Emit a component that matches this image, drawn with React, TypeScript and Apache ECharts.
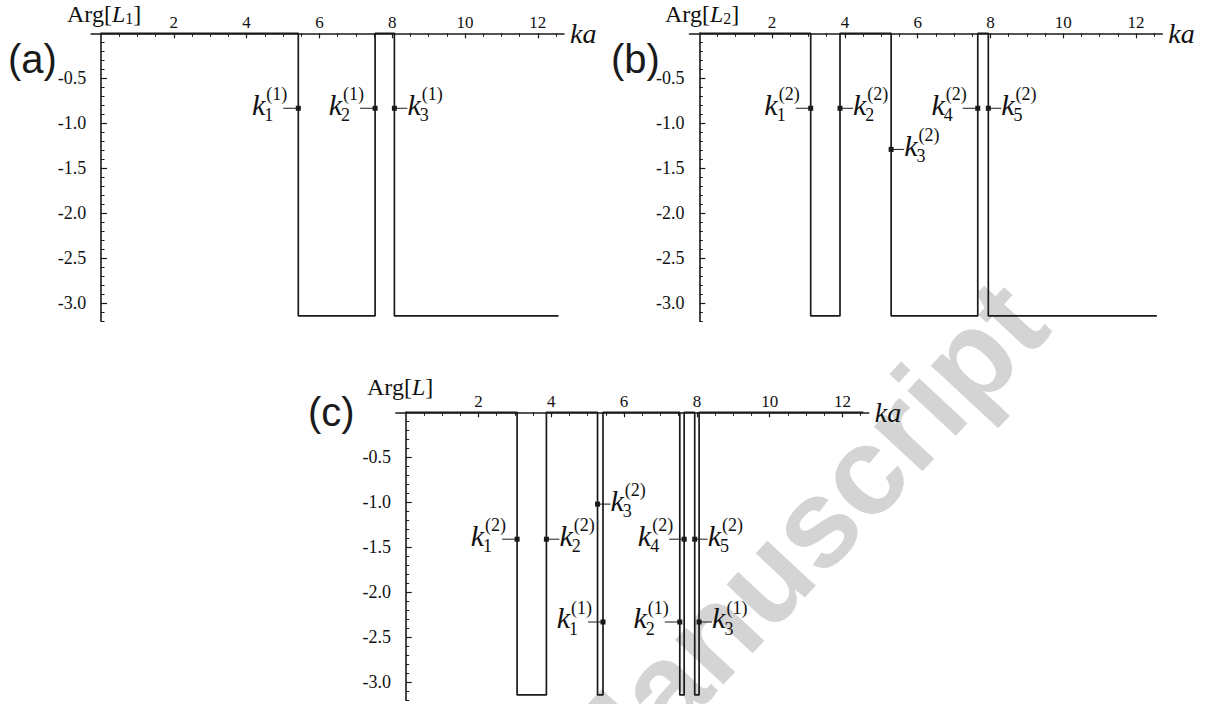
import React, { useEffect, useRef } from "react";
import * as echarts from "echarts";

// ---- data ----
const xMajorTicks = [2, 4, 6, 8, 10, 12];
const xMinorTicks = [0.5, 1, 1.5, 2.5, 3, 3.5, 4.5, 5, 5.5, 6.5, 7, 7.5, 8.5, 9, 9.5, 10.5, 11, 11.5, 12.5];
const yMajorTicks = [-0.5, -1.0, -1.5, -2.0, -2.5, -3.0];
const yMinorTicks = [
  -0.1, -0.2, -0.3, -0.4, -0.6, -0.7, -0.8, -0.9, -1.1, -1.2, -1.3, -1.4, -1.6, -1.7, -1.8, -1.9,
  -2.1, -2.2, -2.3, -2.4, -2.6, -2.7, -2.8, -2.9, -3.1, -3.2,
];

const KA_START = 0;
const KA_END = 12.57; // 4π
const ARG_HIGH = 0;
const ARG_LOW = -3.14; // -π

// ka values where Arg jumps between 0 and -π
const jumpsL1 = [5.42, 7.53, 8.06];
const jumpsL2 = [3.06, 3.865, 5.27, 7.65, 7.94];
const jumpsL = [3.06, 3.865, 5.27, 5.42, 7.53, 7.65, 7.94, 8.06];

// annotation: [ka, arg position of marker, subscript, superscript, side (0 left / 1 right)]
const labelsL1 = [
  [5.42, -0.833, 1, 1, 0],
  [7.53, -0.833, 2, 1, 0],
  [8.06, -0.833, 3, 1, 1],
];
const labelsL2 = [
  [3.06, -0.833, 1, 2, 0],
  [3.865, -0.833, 2, 2, 1],
  [5.27, -1.29, 3, 2, 1],
  [7.65, -0.833, 4, 2, 0],
  [7.94, -0.833, 5, 2, 1],
];
const labelsL = [
  [3.06, -1.41, 1, 2, 0],
  [3.865, -1.41, 2, 2, 1],
  [5.27, -1.02, 3, 2, 1],
  [7.65, -1.41, 4, 2, 0],
  [7.94, -1.41, 5, 2, 1],
  [5.42, -2.33, 1, 1, 0],
  [7.53, -2.33, 2, 1, 0],
  [8.06, -2.33, 3, 1, 1],
];

// ---- layout ----
const X_MIN = -0.27;
const X_MAX = 12.72;
const Y_MIN = -3.2;
const Y_MAX = 0;
const GRID_W = 472.8;
const GRID_H = 288;
const grids = [
  { left: 91.2, top: 33.3 },
  { left: 689.5, top: 33.3 },
  { left: 395.9, top: 412.3 },
];

const INK = "#1a1a1a";
const SERIF = "Liberation Serif";
const SANS = "Liberation Sans";

function stepPoints(jumps: number[]): number[][] {
  const pts: number[][] = [[KA_START, ARG_HIGH]];
  let level = ARG_HIGH;
  for (const t of jumps) {
    pts.push([t, level]);
    level = level === ARG_HIGH ? ARG_LOW : ARG_HIGH;
    pts.push([t, level]);
  }
  pts.push([KA_END, level]);
  return pts;
}

function renderLabel(params: any, api: any) {
  const x = api.value(0);
  const y = api.value(1);
  const sub = api.value(2);
  const sup = api.value(3);
  const side = api.value(4);
  const p = api.coord([x, y]);
  const mx = p[0];
  const my = p[1];
  const kw = 13.3;
  let kx: number, kAlign: string, sx: number, l1: number, l2: number;
  if (side === 0) {
    kx = mx - 33;
    kAlign = "right";
    sx = mx - 33;
    l1 = mx - 15;
    l2 = mx;
  } else {
    kx = mx + 13;
    kAlign = "left";
    sx = mx + 13 + kw;
    l1 = mx;
    l2 = mx + 13;
  }
  return {
    type: "group",
    children: [
      {
        type: "line",
        shape: { x1: l1, y1: my, x2: l2, y2: my },
        style: { stroke: INK, lineWidth: 1 },
      },
      {
        type: "rect",
        shape: { x: mx - 2.5, y: my - 2.5, width: 5, height: 5 },
        style: { fill: INK },
      },
      {
        type: "text",
        x: kx,
        y: my - 4.1,
        style: {
          text: "k",
          fontFamily: SERIF,
          fontStyle: "italic",
          fontSize: 30,
          fill: "#111",
          textAlign: kAlign,
          textVerticalAlign: "middle",
        },
      },
      {
        type: "text",
        x: sx + 1,
        y: my - 14,
        style: {
          text: "(" + sup + ")",
          fontFamily: SERIF,
          fontSize: 18,
          fill: "#111",
          textAlign: "left",
          textVerticalAlign: "middle",
        },
      },
      {
        type: "text",
        x: sx - 1,
        y: my + 7,
        style: {
          text: String(sub),
          fontFamily: SERIF,
          fontSize: 18,
          fill: "#111",
          textAlign: "left",
          textVerticalAlign: "middle",
        },
      },
    ],
  };
}

function buildOption() {
  const gridOpts = grids.map((g) => ({
    left: g.left,
    top: g.top,
    width: GRID_W,
    height: GRID_H,
    containLabel: false,
  }));

  const xAxes: any[] = [];
  const yAxes: any[] = [];
  grids.forEach((_, gi) => {
    xAxes.push({
      gridIndex: gi,
      type: "value",
      min: X_MIN,
      max: X_MAX,
      position: "top",
      axisLine: { show: true, onZero: false, lineStyle: { color: INK, width: 1.6 } },
      axisTick: {
        show: true,
        inside: true,
        length: 5,
        customValues: xMajorTicks,
        lineStyle: { color: INK, width: 1.2 },
      },
      axisLabel: {
        show: true,
        customValues: xMajorTicks,
        margin: 2,
        fontFamily: SERIF,
        fontWeight: "normal",
        fontSize: 17,
        color: "#111",
        formatter: (v: number) => String(v),
      },
      splitLine: { show: false },
      name: "ka",
      nameLocation: "end",
      nameGap: 6,
      nameTextStyle: {
        fontFamily: SERIF,
        fontStyle: "italic",
        fontWeight: "normal",
        fontSize: 28,
        color: "#111",
        padding: [0, 0, 10, 0],
      },
    });
    xAxes.push({
      gridIndex: gi,
      type: "value",
      min: X_MIN,
      max: X_MAX,
      position: "top",
      axisLine: { show: false, onZero: false },
      axisTick: {
        show: true,
        inside: true,
        length: 3.5,
        customValues: xMinorTicks,
        lineStyle: { color: INK, width: 1 },
      },
      axisLabel: { show: false },
      splitLine: { show: false },
    });
    yAxes.push({
      gridIndex: gi,
      type: "value",
      min: Y_MIN,
      max: Y_MAX,
      position: "left",
      axisLine: { show: true, onZero: true, lineStyle: { color: INK, width: 1.6 } },
      axisTick: {
        show: true,
        inside: true,
        length: 6,
        customValues: yMajorTicks,
        lineStyle: { color: INK, width: 1.2 },
      },
      axisLabel: {
        show: true,
        customValues: yMajorTicks,
        margin: 5,
        fontFamily: SERIF,
        fontWeight: "normal",
        fontSize: 18,
        color: "#111",
        formatter: (v: number) => v.toFixed(1),
      },
      splitLine: { show: false },
    });
    yAxes.push({
      gridIndex: gi,
      type: "value",
      min: Y_MIN,
      max: Y_MAX,
      position: "left",
      axisLine: { show: false, onZero: true },
      axisTick: {
        show: true,
        inside: true,
        length: 3.5,
        customValues: yMinorTicks,
        lineStyle: { color: INK, width: 1 },
      },
      axisLabel: { show: false },
      splitLine: { show: false },
    });
  });

  const jumpSets = [jumpsL1, jumpsL2, jumpsL];
  const labelSets = [labelsL1, labelsL2, labelsL];
  const series: any[] = [];
  jumpSets.forEach((jumps, gi) => {
    series.push({
      type: "line",
      xAxisIndex: gi * 2,
      yAxisIndex: gi * 2,
      data: stepPoints(jumps),
      symbol: "none",
      showSymbol: false,
      clip: false,
      lineStyle: { color: INK, width: 1.7 },
      z: 3,
    });
    series.push({
      type: "custom",
      xAxisIndex: gi * 2,
      yAxisIndex: gi * 2,
      data: labelSets[gi],
      renderItem: renderLabel,
      clip: false,
      z: 4,
    });
  });

  const argRich = {
    r: { fontFamily: SERIF, fontSize: 24, lineHeight: 26, fontWeight: "normal", color: "#111" },
    i: { fontFamily: SERIF, fontSize: 24, lineHeight: 26, fontWeight: "normal", fontStyle: "italic", color: "#111" },
    s: { fontFamily: SERIF, fontSize: 16, lineHeight: 14, fontWeight: "normal", verticalAlign: "bottom", color: "#111" },
  };
  const panelStyle = {
    fontFamily: SANS,
    fontSize: 40,
    lineHeight: 40,
    fontWeight: "normal",
    color: "#1a1a1a",
  };
  const argStyle = { fontWeight: "normal", fontFamily: SERIF, rich: argRich };

  const title = [
    { text: "{r|Arg[}{i|L}{s|1}{r|]}", left: 67, top: 0.6, padding: 0, textStyle: argStyle },
    { text: "{r|Arg[}{i|L}{s|2}{r|]}", left: 665, top: 0.6, padding: 0, textStyle: argStyle },
    { text: "{r|Arg[}{i|L}{r|]}", left: 367, top: 373.9, padding: 0, textStyle: argStyle },
    { text: "(a)", left: 8, top: 39, padding: 0, textStyle: panelStyle },
    { text: "(b)", left: 611, top: 39, padding: 0, textStyle: panelStyle },
    { text: "(c)", left: 308, top: 392, padding: 0, textStyle: panelStyle },
  ];

  return {
    animation: false,
    backgroundColor: "#ffffff",
    textStyle: { fontFamily: SERIF },
    title,
    grid: gridOpts,
    xAxis: xAxes,
    yAxis: yAxes,
    series,
    graphic: [
      {
        type: "text",
        x: 1022,
        y: 301,
        rotation: 0.82,
        z: -10,
        silent: true,
        style: {
          text: "Accepted Manuscript",
          fontFamily: SANS,
          fontWeight: "bold",
          fontSize: 125,
          fill: "#d4d4d4",
          textAlign: "right",
          textVerticalAlign: "middle",
        },
      },
    ],
  };
}

export default function App() {
  const ref = useRef<HTMLDivElement>(null);
  useEffect(() => {
    if (!ref.current) return;
    const chart = echarts.init(ref.current, undefined, { renderer: "svg" });
    chart.setOption(buildOption() as any);
    return () => chart.dispose();
  }, []);
  return (
    <div
      ref={ref}
      style={{ position: "fixed", left: 0, top: 0, width: 1208, height: 704, background: "#fff" }}
    />
  );
}
